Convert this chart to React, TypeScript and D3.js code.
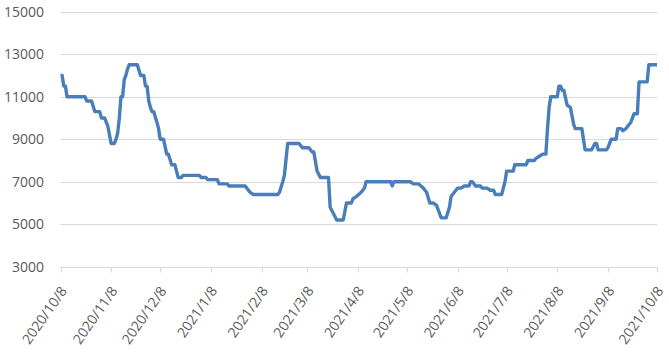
import React, { useEffect, useRef } from "react";
import * as d3 from "d3";

const startDate = "2020-10-08";
// day offsets from 2020-10-08 and values
const dayOffsets = [0,1,2,3,4,15,16,19,21,24,25,27,29,30,31,33,34,35,36,37,38,39,40,41,42,47,49,51,52,53,54,55,56,57,59,60,61,63,65,66,68,70,71,72,74,75,85,86,89,90,96,97,102,103,113,115,116,118,133,134,136,137,139,146,148,152,154,155,157,159,164,165,167,169,173,174,175,178,179,181,184,186,187,202,203,204,214,216,219,222,224,226,228,230,232,233,236,238,239,241,243,245,247,250,251,252,254,257,258,261,263,265,266,270,272,273,277,278,285,286,290,291,293,295,297,298,299,300,304,305,306,307,308,310,312,314,315,319,320,321,325,327,328,329,334,335,337,340,341,343,344,346,349,351,353,354,359,360,365];
const prices = [12000,12000,11500,11500,11000,11000,10800,10800,10300,10300,10000,10000,9600,9200,8800,8800,9000,9300,10000,11000,11000,11800,12000,12300,12500,12500,12000,12000,11500,11500,10800,10500,10300,10300,9800,9500,9000,9000,8300,8300,7800,7800,7500,7200,7200,7300,7300,7200,7200,7100,7100,6900,6900,6800,6800,6600,6500,6400,6400,6500,7000,7300,8800,8800,8600,8600,8400,8400,7500,7200,7200,5800,5500,5200,5200,5600,6000,6000,6200,6300,6500,6700,7000,7000,6800,7000,7000,6900,6900,6700,6500,6000,6000,5900,5500,5300,5300,5800,6300,6500,6700,6700,6800,6800,7000,7000,6800,6800,6700,6700,6600,6600,6400,6400,7000,7500,7500,7800,7800,8000,8000,8100,8200,8300,8300,9500,10500,11000,11000,11500,11500,11300,11300,10600,10500,9700,9500,9500,9000,8500,8500,8800,8800,8500,8500,8600,9000,9000,9500,9500,9400,9500,9800,10200,10200,11700,11700,12500,12500];
const yTicks = [3000, 5000, 7000, 9000, 11000, 13000, 15000];
const xTickLabels = ["2020/10/8","2020/11/8","2020/12/8","2021/1/8","2021/2/8","2021/3/8","2021/4/8","2021/5/8","2021/6/8","2021/7/8","2021/8/8","2021/9/8","2021/10/8"];

const W = 669, H = 363;
const M = { left: 60.5, right: 657, top: 11.7, bottom: 266.7 };

export default function App() {
  const ref = useRef<SVGSVGElement>(null);
  useEffect(() => {
    const svg = d3.select(ref.current);
    svg.selectAll("*").remove();
    const base = d3.timeParse("%Y-%m-%d")(startDate) as Date;
    const data = dayOffsets.map((d, i) => ({ date: d3.timeDay.offset(base, d), v: prices[i] }));
    const tickDates = xTickLabels.map((s) => d3.timeParse("%Y/%m/%d")(s) as Date);
    const x = d3.scaleTime().domain([tickDates[0], tickDates[tickDates.length - 1]]).range([M.left, M.right]);
    const y = d3.scaleLinear().domain([3000, 15000]).range([M.bottom, M.top]);
    const font = "'Open Sans', sans-serif";

    svg.append("g").selectAll("line").data(yTicks.slice(1)).join("line")
      .attr("x1", M.left).attr("x2", M.right + 0.5)
      .attr("y1", (d) => Math.round(y(d)) + 0.5).attr("y2", (d) => Math.round(y(d)) + 0.5)
      .attr("stroke", "#D9D9D9").attr("stroke-width", 1);

    svg.append("g").selectAll("text").data(yTicks).join("text")
      .attr("x", 44).attr("y", (d) => y(d)).attr("dy", "0.35em")
      .attr("text-anchor", "end").attr("font-family", font).attr("font-size", 14)
      .attr("fill", "#595959").text((d) => String(d));

    const ax = svg.append("g").attr("transform", `translate(0,${Math.round(M.bottom) + 0.5})`);
    ax.append("line").attr("x1", M.left).attr("x2", M.right + 0.5).attr("stroke", "#D9D9D9");
    ax.selectAll("line.t").data(tickDates).join("line").attr("class", "t")
      .attr("x1", (d) => Math.round(x(d)) + 0.5).attr("x2", (d) => Math.round(x(d)) + 0.5)
      .attr("y1", 0).attr("y2", 5).attr("stroke", "#D9D9D9");
    ax.selectAll("text").data(tickDates).join("text")
      .attr("transform", (d) => `translate(${x(d) + 3},${20.5}) rotate(-55)`)
      .attr("text-anchor", "end").attr("dy", "0.35em")
      .attr("font-family", font).attr("font-size", 14).attr("fill", "#595959")
      .text((_, i) => xTickLabels[i]);

    const line = d3.line<{ date: Date; v: number }>().x((d) => x(d.date)).y((d) => y(d.v));
    svg.append("path").datum(data).attr("d", line).attr("fill", "none")
      .attr("stroke", "#4A7EBB").attr("stroke-width", 3.4).attr("stroke-linejoin", "round");
  }, []);
  return (
    <svg ref={ref} width={W} height={H} style={{ position: "absolute", left: 0, top: 0, background: "#fff" }} />
  );
}
